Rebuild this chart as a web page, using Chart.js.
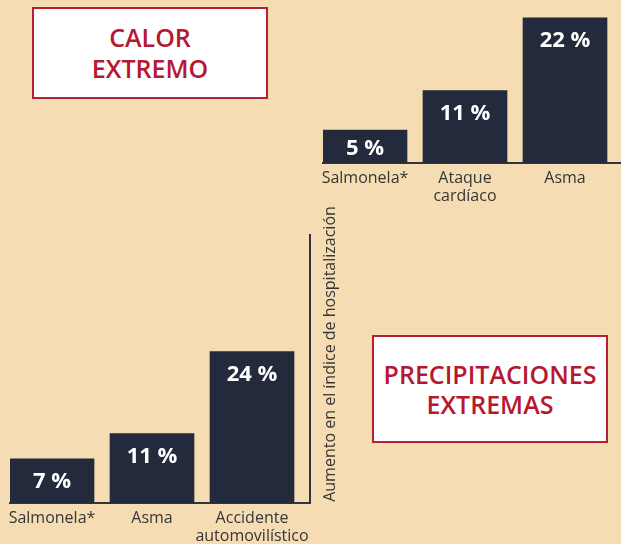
<!DOCTYPE html>
<html lang="es">
<head>
<meta charset="utf-8">
<script src="https://cdn.jsdelivr.net/npm/chart.js@4"></script>
<style>
  html, body { margin: 0; padding: 0; }
  body {
    width: 621px; height: 544px; overflow: hidden; position: relative;
    background: #f6dcb3; font-family: "Open Sans", sans-serif;
  }
  .box {
    position: absolute; box-sizing: border-box; background: #fff;
    border: 2px solid #b51f35; color: #b51830;
    display: flex; align-items: center; justify-content: center; text-align: center;
    font-weight: 600; font-size: 25px; line-height: 31px;
  }
  #calorBox { left: 32px; top: 7px; width: 236px; height: 92px; }
  #lluviaBox { left: 372px; top: 335px; width: 236px; height: 108px; line-height: 30px; }
  .wrap { position: absolute; }
  #calorWrap { left: 300px; top: 0; width: 321px; height: 210px; }
  #lluviaWrap { left: 0; top: 200px; width: 345px; height: 344px; }
</style>
</head>
<body>
<div class="box" id="calorBox">CALOR<br>EXTREMO</div>
<div class="wrap" id="calorWrap"><canvas id="calorChart"></canvas></div>
<div class="wrap" id="lluviaWrap"><canvas id="lluviaChart"></canvas></div>
<div class="box" id="lluviaBox">PRECIPITACIONES<br>EXTREMAS</div>
<script>
// Calor extremo
const calorCategories = ['Salmonela*', ['Ataque', 'cardíaco'], 'Asma'];
const calorValues = [5, 11, 22];

// Precipitaciones extremas
const lluviaCategories = ['Salmonela*', 'Asma', ['Accidente', 'automovilístico']];
const lluviaValues = [7, 11, 24];

const axisTitle = 'Aumento en el índice de hospitalización';

const barColor = '#222a3c';
const lineColor = '#30343e';
const textColor = '#363636';

// white percentage labels near the top of each bar
const valueLabels = {
    id: 'valueLabels',
    afterDatasetsDraw(chart) {
        const ctx = chart.ctx;
        const meta = chart.getDatasetMeta(0);
        const values = chart.data.datasets[0].data;
        ctx.save();
        ctx.fillStyle = '#ffffff';
        ctx.font = 'bold 22px "Open Sans"';
        ctx.textAlign = 'center';
        ctx.textBaseline = 'middle';
        meta.data.forEach(function(bar, i) {
            const y = Math.min(bar.y + 23, (bar.y + bar.base) / 2 + 2);
            ctx.fillText(values[i].y + ' %', bar.x, y);
        });
        ctx.restore();
    }
};

// rotated text to the right of the vertical axis line
const sideTitle = {
    id: 'sideTitle',
    afterDraw(chart) {
        const ctx = chart.ctx;
        const area = chart.chartArea;
        ctx.save();
        ctx.translate(area.right + 20, (area.top + area.bottom) / 2 - 15);
        ctx.rotate(-Math.PI / 2);
        ctx.fillStyle = textColor;
        ctx.font = '16px "Open Sans"';
        ctx.textAlign = 'center';
        ctx.textBaseline = 'middle';
        ctx.fillText(axisTitle, 0, 0);
        ctx.restore();
    }
};

function makeChart(id, categories, values, opts) {
    const ctx = document.getElementById(id).getContext('2d');
    return new Chart(ctx, {
        type: 'bar',
        data: {
            datasets: [{
                data: values.map(function(v, i) { return {x: i, y: v}; }),
                backgroundColor: barColor,
                borderWidth: 0,
                barThickness: 84
            }]
        },
        options: {
            responsive: true,
            maintainAspectRatio: false,
            animation: false,
            layout: { padding: opts.padding },
            plugins: { legend: { display: false }, tooltip: { enabled: false } },
            scales: {
                x: {
                    type: 'linear',
                    bounds: 'data',
                    offset: false,
                    min: -0.42,
                    max: opts.xMax,
                    grid: { display: false, drawTicks: false, offset: false },
                    border: { display: true, color: lineColor, width: 2 },
                    afterBuildTicks: function(scale) {
                        scale.ticks = categories.map(function(c, i) { return {value: i}; });
                    },
                    afterFit: function(scale) { scale.height = opts.xHeight; },
                    ticks: {
                        autoSkip: false,
                        maxRotation: 0,
                        padding: 6,
                        color: textColor,
                        font: { family: 'Open Sans', size: 16, lineHeight: 1.15 },
                        callback: function(value) { return categories[value]; }
                    }
                },
                y: opts.y
            }
        },
        plugins: opts.plugins
    });
}

makeChart('calorChart', calorCategories, calorValues, {
    padding: { left: 23, top: 10, right: 0, bottom: 0 },
    xMax: 2.56,
    xHeight: 47,
    y: { display: false, min: 0, max: 23.2 },
    plugins: [valueLabels]
});

makeChart('lluviaChart', lluviaCategories, lluviaValues, {
    padding: { left: 10, top: 35, right: 35, bottom: 0 },
    xMax: 2.58,
    xHeight: 41,
    y: {
        position: 'right',
        min: 0,
        max: 42.5,
        grid: { display: false, drawTicks: false },
        ticks: { display: false },
        border: { display: true, color: lineColor, width: 2 },
        afterFit: function(scale) { scale.width = 0; }
    },
    plugins: [valueLabels, sideTitle]
});
</script>
</body>
</html>
